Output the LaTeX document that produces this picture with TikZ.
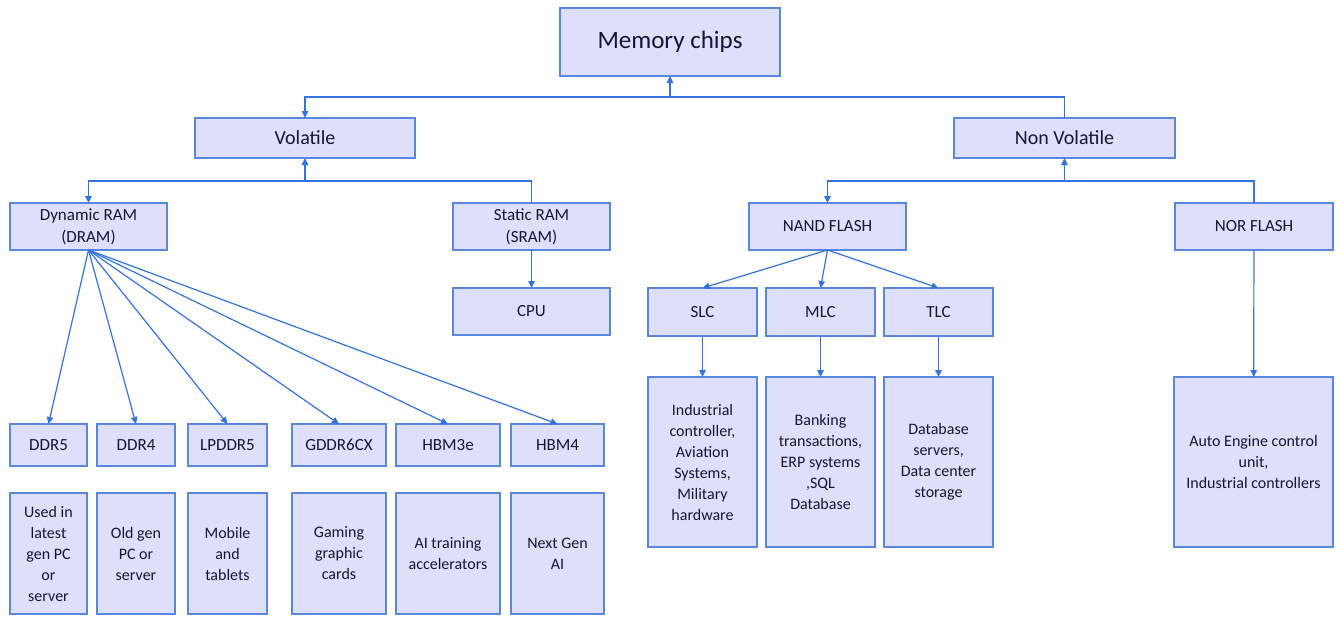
\documentclass[tikz,border=0pt]{standalone}
\usepackage{fontspec}
\setmainfont{Carlito}
\usepackage{xcolor}
\usetikzlibrary{arrows.meta, positioning}

\definecolor{boxfill}{RGB}{222,223,250}
\definecolor{boxline}{RGB}{88,135,225}
\definecolor{linkblue}{RGB}{50,115,225}
\definecolor{inknavy}{RGB}{22,22,52}

\begin{document}
\begin{tikzpicture}[
    x=1pt, y=-1pt,
    box/.style={draw=boxline, fill=boxfill, line width=1.6pt, rectangle, align=center,
                text=inknavy, inner sep=0pt, outer sep=0pt,
                font=\fontsize{16}{21}\selectfont},
    rootbox/.style={box, minimum width=220pt, minimum height=68pt, font=\fontsize{25}{30}\selectfont},
    classbox/.style={box, minimum width=220pt, minimum height=40pt, font=\fontsize{20}{24}\selectfont},
    kindbox/.style={box, minimum width=157pt, minimum height=47pt, font=\fontsize{17}{22}\selectfont},
    cellbox/.style={box, minimum width=109pt, minimum height=48pt, font=\fontsize{17}{22}\selectfont},
    usebox/.style={box, minimum width=109pt, minimum height=170pt},
    ddrbox/.style={box, minimum height=42pt, font=\fontsize{17}{22}\selectfont},
    notebox/.style={box, minimum height=121pt},
    link/.style={draw=linkblue, line width=1.2pt},
    tip/.style={-{Triangle[length=7pt,width=6.5pt]}},
    node distance=27pt
]
\useasboundingbox (0,0) rectangle (1337,616);

% top levels
\node[rootbox] (mem) at (670,42) {Memory chips};
\node[classbox] (vol) at (305,138) {Volatile};
\node[classbox, minimum width=221pt] (nvol) at (1064.5,138) {Non Volatile};

\node[kindbox] (dram) at (88.5,226.5) {Dynamic RAM\\(DRAM)};
\node[kindbox] (sram) at (531.5,226.5) {Static RAM\\(SRAM)};
\node[kindbox, below=38pt of sram] (cpu) {CPU};
\node[kindbox] (nand) at (827.5,226.5) {NAND FLASH};
\node[kindbox, minimum width=158pt] (nor) at (1254,226.5) {NOR FLASH};

% NAND cells
\node[cellbox] (slc) at (702.5,312) {SLC};
\node[cellbox] (mlc) at (820.5,312) {MLC};
\node[cellbox] (tlc) at (938.5,312) {TLC};
\node[usebox, below=41pt of slc] (slcuse) {Industrial\\controller,\\Aviation\\Systems,\\Military\\hardware};
\node[usebox, below=41pt of mlc] (mlcuse) {Banking\\transactions,\\ERP systems\\,SQL\\Database};
\node[usebox, below=41pt of tlc] (tlcuse) {Database\\servers,\\Data center\\storage};
\node[usebox, minimum width=159pt] (noruse) at (1253.5,462) {Auto Engine control\\unit,\\Industrial controllers};

% DRAM generations
\node[ddrbox, minimum width=77pt] (ddr5) at (48.5,445) {DDR5};
\node[ddrbox, minimum width=78pt] (ddr4) at (136,445) {DDR4};
\node[ddrbox, minimum width=79pt] (lpddr5) at (227.5,445) {LPDDR5};
\node[ddrbox, minimum width=94pt] (gddr) at (339,445) {GDDR6CX};
\node[ddrbox, minimum width=104pt] (hbm3e) at (448,445) {HBM3e};
\node[ddrbox, minimum width=93pt] (hbm4) at (557.5,445) {HBM4};
\node[notebox, minimum width=77pt, below=of ddr5] (ddr5use) {Used in\\latest\\gen PC\\or\\server};
\node[notebox, minimum width=78pt, below=of ddr4] (ddr4use) {Old gen\\PC or\\server};
\node[notebox, minimum width=79pt, below=of lpddr5] (lpddr5use) {Mobile\\and\\tablets};
\node[notebox, minimum width=94pt, below=of gddr] (gddruse) {Gaming\\graphic\\cards};
\node[notebox, minimum width=104pt, below=of hbm3e] (hbm3euse) {AI training\\accelerators};
\node[notebox, minimum width=93pt, below=of hbm4] (hbm4use) {Next Gen\\AI};

% tree links
\draw[link, {Triangle[length=7pt,width=6.5pt]}-{Triangle[length=7pt,width=6.5pt]}]
    (vol.north) -- (vol.north |- 0,97) -| (mem.south);
\draw[link] (nvol.north) |- (mem.south |- 0,97);
\draw[link, {Triangle[length=7pt,width=6.5pt]}-{Triangle[length=7pt,width=6.5pt]}]
    (dram.north) -- (dram.north |- 0,181) -| (vol.south);
\draw[link] (sram.north) |- (vol.south |- 0,181);
\draw[link, {Triangle[length=7pt,width=6.5pt]}-{Triangle[length=7pt,width=6.5pt]}]
    (nand.north) -- (nand.north |- 0,181) -| (nvol.south);
\draw[link] (nor.north) |- (nvol.south |- 0,181);
\draw[link, tip] (sram) -- (cpu);
\draw[link, tip] (nor) -- (noruse);

% fan-outs
\draw[link, tip] (dram.south) -- (ddr5.north);
\draw[link, tip] (dram.south) -- (ddr4.north);
\draw[link, tip] (dram.south) -- (lpddr5.north);
\draw[link, tip] (dram.south) -- (gddr.north);
\draw[link, tip] (dram.south) -- (hbm3e.north);
\draw[link, tip] (dram.south) -- (hbm4.north);
\draw[link, tip] (nand.south) -- (slc.north);
\draw[link, tip] (nand.south) -- (mlc.north);
\draw[link, tip] (nand.south) -- (tlc.north);
\draw[link, tip] (slc) -- (slcuse);
\draw[link, tip] (mlc) -- (mlcuse);
\draw[link, tip] (tlc) -- (tlcuse);
\end{tikzpicture}
\end{document}
